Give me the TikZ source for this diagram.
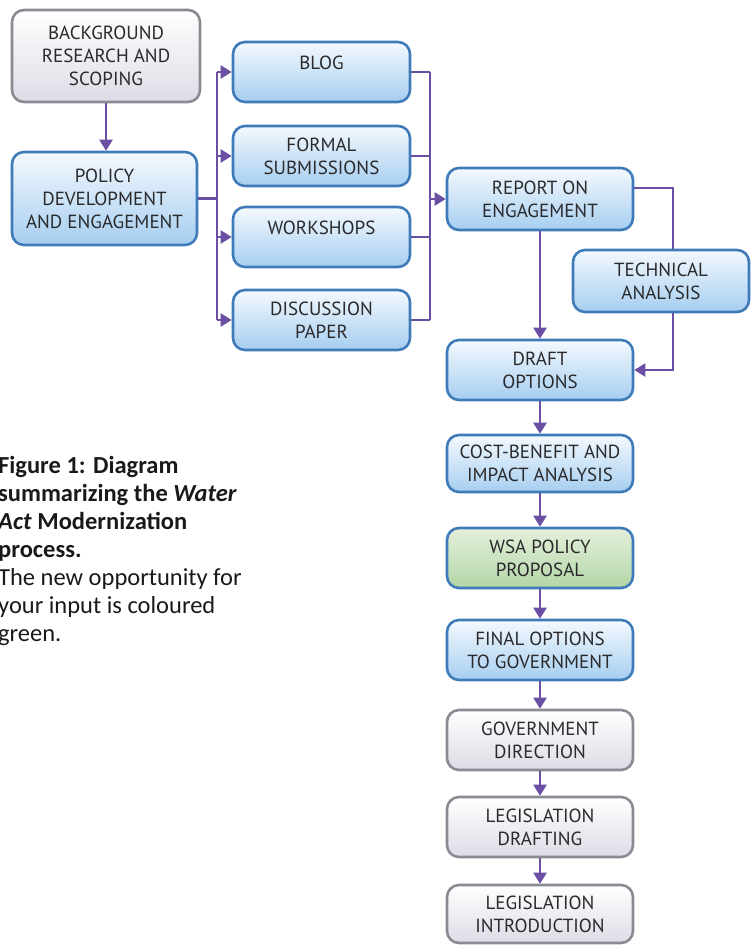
\documentclass[tikz,border=0pt]{standalone}
\usepackage{fontspec}
\setmainfont{Carlito}
\newfontfamily\boxfont{PT Sans}
\usetikzlibrary{arrows.meta,calc}
\definecolor{bborder}{HTML}{3F7BB8}
\definecolor{gborder}{HTML}{8A8A92}
\definecolor{conncol}{HTML}{6A4FA3}
\definecolor{boxtext}{HTML}{2A2A2C}
\definecolor{HTMLblue}{HTML}{A6CEF0}
\definecolor{HTMLbluetop}{HTML}{F4F9FE}
\definecolor{HTMLbluemid}{HTML}{E2EFFA}
\definecolor{HTMLgray}{HTML}{DCDCE6}
\definecolor{HTMLgreenA}{HTML}{E4F0DC}
\definecolor{HTMLgreenB}{HTML}{B3D6A6}
\newcommand{\upline}[1]{\raisebox{9pt}[\height][\depth]{#1}}
\tikzset{
  box/.style={draw=bborder, line width=2.6pt, rounded corners=12pt,
    top color=HTMLbluetop, middle color=HTMLbluemid, bottom color=HTMLblue,
    text=boxtext, align=center, font=\boxfont\fontsize{19}{23}\selectfont,
    minimum width=186pt, minimum height=60pt, inner sep=1pt},
  graybox/.style={box, draw=gborder, top color=white, middle color=white, bottom color=HTMLgray},
  greenbox/.style={box, top color=HTMLgreenA, middle color=HTMLgreenA, bottom color=HTMLgreenB},
  midbox/.style={box, minimum width=177pt},
  conn/.style={draw=conncol, line width=2.4pt},
  arr/.style={conn, -{Triangle[width=13pt,length=11pt]}},
}
\begin{document}
\begin{tikzpicture}[x=1pt,y=-1pt]
\useasboundingbox (0,0) rectangle (750,945);
% left column
\node[graybox, minimum width=188pt, minimum height=92pt] (bg) at (106,56) {BACKGROUND\\RESEARCH AND\\SCOPING};
\node[box, minimum width=185pt, minimum height=93pt] (pol) at (104.5,198.5) {POLICY\\DEVELOPMENT\\AND ENGAGEMENT};
% middle column
\node[midbox] (blog) at (321.5,72) {\upline{BLOG}};
\node[midbox] (form) at (321.5,156) {FORMAL\\SUBMISSIONS};
\node[midbox] (work) at (321.5,237) {\upline{WORKSHOPS}};
\node[midbox] (disc) at (321.5,320) {DISCUSSION\\PAPER};
% right column
\node[box, minimum height=62pt] (rep) at (540,199) {REPORT ON\\ENGAGEMENT};
\node[box, minimum width=176pt, minimum height=62pt] (tech) at (661,281) {TECHNICAL\\ANALYSIS};
\node[box] (draft) at (540,370) {DRAFT\\OPTIONS};
\node[box, minimum height=57pt] (cost) at (540,463.5) {COST-BENEFIT AND\\IMPACT ANALYSIS};
\node[greenbox] (wsa) at (540,558) {WSA POLICY\\PROPOSAL};
\node[box] (final) at (540,650) {FINAL OPTIONS\\TO GOVERNMENT};
\node[graybox] (gov) at (540,740) {GOVERNMENT\\DIRECTION};
\node[graybox] (ldraft) at (540,827) {LEGISLATION\\DRAFTING};
\node[graybox, minimum height=58pt] (lintro) at (540,914) {LEGISLATION\\INTRODUCTION};
% bus coordinates
\coordinate (busL) at (217,0);
\coordinate (busR) at (430,0);
\coordinate (trA) at (673,188);
% connectors
\draw[arr] (bg.south) -- (bg.south |- pol.north);
\draw[conn] (pol.east) -- (pol.east -| busL);
\draw[conn] (busL |- blog.west) -- (busL |- disc.west);
\foreach \n in {blog,form,work,disc}{
  \draw[arr] (busL |- \n.west) -- (\n.west);
  \draw[conn] (\n.east) -- (busR |- \n.east);
}
\draw[conn] (busR |- blog.east) -- (busR |- disc.east);
\draw[arr] (busR |- rep.west) -- (rep.west);
\draw[arr] (rep.south) -- (draft.north);
\draw[conn] (rep.east |- trA) -- (trA) -- (trA |- tech.north);
\draw[arr] (trA |- tech.south) |- (draft.east);
\draw[arr] (draft.south) -- (cost.north);
\draw[arr] (cost.south) -- (wsa.north);
\draw[arr] (wsa.south) -- (final.north);
\draw[arr] (final.south) -- (gov.north);
\draw[arr] (gov.south) -- (ldraft.north);
\draw[arr] (ldraft.south) -- (lintro.north);
% caption
\node[anchor=north west, align=left, inner sep=0pt, text=black!90,
  font=\fontsize{24.5}{28}\selectfont] (cap) at (-2,456)
  {\textbf{Figure 1: Diagram}\\
   \textbf{summarizing the \textit{Water}}\\
   \textbf{\textit{Act} Modernization}\\
   \textbf{process.}\\
   The new opportunity for\\
   your input is coloured\\
   green.};
\end{tikzpicture}
\end{document}
